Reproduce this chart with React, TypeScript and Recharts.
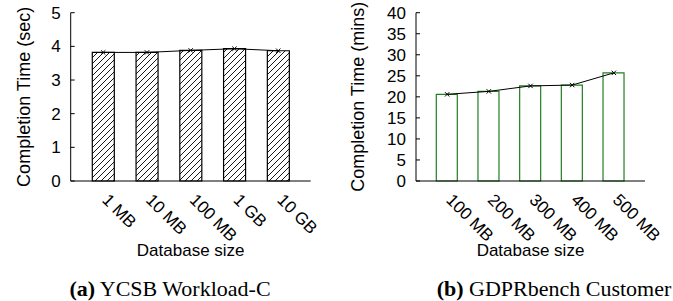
import React from 'react';
import { ComposedChart, Bar, Line, XAxis, YAxis } from 'recharts';

const ycsbSizes = ['1 MB', '10 MB', '100 MB', '1 GB', '10 GB'];
const ycsbTimes = [3.82, 3.82, 3.88, 3.93, 3.87];
const ycsbTicks = [0, 1, 2, 3, 4, 5];

const gdprSizes = ['100 MB', '200 MB', '300 MB', '400 MB', '500 MB'];
const gdprTimes = [20.6, 21.3, 22.6, 22.8, 25.7];
const gdprTicks = [0, 5, 10, 15, 20, 25, 30, 35, 40];

const SANS = '"Liberation Sans", Arial, Helvetica, sans-serif';
const SERIF = '"Liberation Serif", "Times New Roman", serif';
const GREEN = '#237d23';

const ycsbData = ycsbSizes.map((s, i) => ({ size: s, time: ycsbTimes[i] }));
const gdprData = gdprSizes.map((s, i) => ({ size: s, time: gdprTimes[i] }));

const YTick = (props: any) => {
  const { x, y, payload } = props;
  return (
    <g>
      <line x1={x + 10} x2={x + 14} y1={y} y2={y} stroke="#000" strokeWidth={1} />
      <text x={x} y={y} dy="0.36em" textAnchor="end" fontFamily={SANS} fontSize={17} fill="#000">
        {payload.value}
      </text>
    </g>
  );
};

const XTick = (props: any) => {
  const { x, y, payload } = props;
  const ax = x - 2;
  const ay = y + 20;
  return (
    <text
      x={ax}
      y={ay}
      transform={`rotate(45, ${ax}, ${ay})`}
      textAnchor="start"
      fontFamily={SANS}
      fontSize={17}
      fill="#000"
    >
      {payload.value}
    </text>
  );
};

const CrossDot = (props: any) => {
  const { cx, cy, index } = props;
  const r = 2.2;
  return (
    <path
      key={`d${index}`}
      d={`M${cx - r},${cy - r}L${cx + r},${cy + r}M${cx - r},${cy + r}L${cx + r},${cy - r}`}
      stroke="#000"
      strokeWidth={1}
      fill="none"
    />
  );
};

const Panel = (p: {
  data: any[];
  domain: [number, number];
  ticks: number[];
  yLabel: string;
  marginLeft: number;
  marginRight: number;
  labelOffset: number;
  pad: number;
  barSize: number;
  fill: string;
  stroke: string;
}) => (
  <ComposedChart
    width={330}
    height={270}
    data={p.data}
    margin={{ top: 12.7, right: p.marginRight, left: p.marginLeft, bottom: 29 }}
  >
    <defs>
      <pattern id="hatch" patternUnits="userSpaceOnUse" width="6" height="6">
        <rect width="6" height="6" fill="#fff" />
        <path d="M-1,1 L1,-1 M0,6 L6,0 M5,7 L7,5" stroke="#000" strokeWidth={0.9} />
      </pattern>
    </defs>
    <XAxis
      dataKey="size"
      type="category"
      height={60}
      padding={{ left: p.pad, right: p.pad }}
      tickLine={false}
      tickSize={0}
      tickMargin={0}
      axisLine={{ stroke: '#000', strokeWidth: 1 }}
      tick={<XTick />}
      interval={0}
      label={{
        value: 'Database size',
        position: 'insideBottom',
        offset: -15,
        style: { fontFamily: SANS, fontSize: 17, fill: '#000' },
      }}
    />
    <YAxis
      type="number"
      domain={p.domain}
      ticks={p.ticks}
      width={70}
      tickLine={false}
      tickSize={0}
      tickMargin={10}
      axisLine={{ stroke: '#000', strokeWidth: 1 }}
      tick={<YTick />}
      interval={0}
      label={{
        value: p.yLabel,
        angle: -90,
        position: 'insideLeft',
        offset: p.labelOffset,
        style: { textAnchor: 'middle', fontFamily: SANS, fontSize: 18, fill: '#000' },
      }}
    />
    <Bar
      dataKey="time"
      barSize={p.barSize}
      fill={p.fill}
      stroke={p.stroke}
      strokeWidth={1.2}
      isAnimationActive={false}
    />
    <Line
      dataKey="time"
      type="linear"
      stroke="#000"
      strokeWidth={1}
      dot={CrossDot}
      activeDot={false}
      isAnimationActive={false}
    />
  </ComposedChart>
);

export default function App() {
  return (
    <div
      style={{
        position: 'absolute',
        left: 0,
        top: 0,
        width: 673,
        height: 301,
        background: '#fff',
        overflow: 'hidden',
      }}
    >
      <div style={{ position: 'absolute', left: 0, top: 0 }}>
        <Panel
          data={ycsbData}
          domain={[0, 5]}
          ticks={ycsbTicks}
          yLabel="Completion Time (sec)"
          marginLeft={0.7}
          marginRight={19.3}
          labelOffset={23}
          pad={10.6}
          barSize={22}
          fill="url(#hatch)"
          stroke="#000"
        />
      </div>
      <div style={{ position: 'absolute', left: 340, top: 0 }}>
        <Panel
          data={gdprData}
          domain={[0, 40]}
          ticks={gdprTicks}
          yLabel="Completion Time (mins)"
          marginLeft={6}
          marginRight={25}
          labelOffset={12}
          pad={10.3}
          barSize={21}
          fill="#fff"
          stroke={GREEN}
        />
      </div>
      <svg
        width={673}
        height={301}
        style={{ position: 'absolute', left: 0, top: 0, pointerEvents: 'none' }}
      >
        <text x={170} y={296} textAnchor="middle" fontFamily={SERIF} fontSize={22} fill="#000">
          <tspan fontWeight="bold">(a)</tspan> YCSB Workload-C
        </text>
        <text x={554} y={296} textAnchor="middle" fontFamily={SERIF} fontSize={22} fill="#000">
          <tspan fontWeight="bold">(b)</tspan> GDPRbench Customer
        </text>
      </svg>
    </div>
  );
}
